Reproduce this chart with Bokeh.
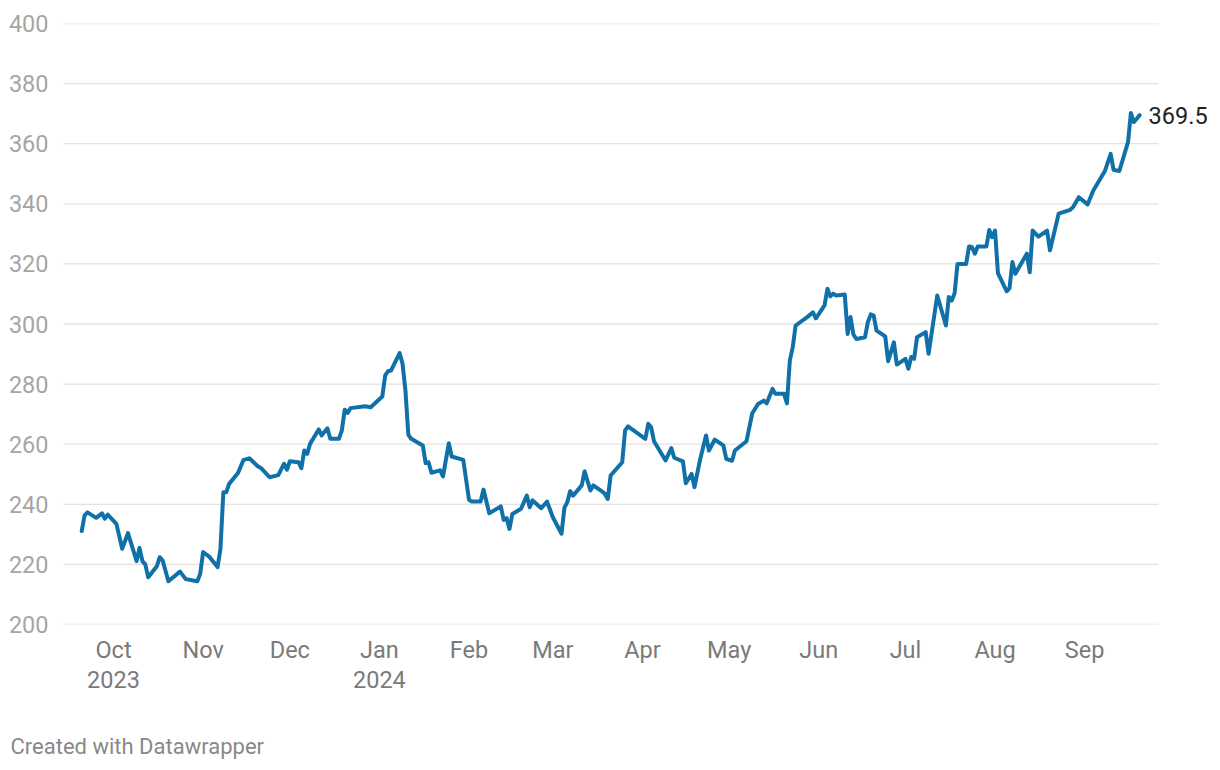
from datetime import datetime, timedelta
import pandas as pd
from bokeh.plotting import figure
from bokeh.layouts import column
from bokeh.models import (Range1d, FixedTicker, CustomJSTickFormatter, Label,
                          Title, ColumnDataSource)
from bokeh.embed import file_html
from bokeh.resources import INLINE

# ---------------- data ----------------
dates = [
    "2023-09-20", "2023-09-21", "2023-09-22", "2023-09-25", "2023-09-27", "2023-09-28", "2023-09-29",
    "2023-10-02", "2023-10-04", "2023-10-06", "2023-10-09", "2023-10-10", "2023-10-11", "2023-10-12",
    "2023-10-13", "2023-10-16", "2023-10-17", "2023-10-18", "2023-10-20", "2023-10-24", "2023-10-26",
    "2023-10-30", "2023-10-31", "2023-11-01", "2023-11-03", "2023-11-06", "2023-11-07", "2023-11-08",
    "2023-11-09", "2023-11-10", "2023-11-13", "2023-11-15", "2023-11-17", "2023-11-20", "2023-11-21",
    "2023-11-24", "2023-11-27", "2023-11-29", "2023-11-30", "2023-12-01", "2023-12-04", "2023-12-05",
    "2023-12-06", "2023-12-07", "2023-12-08", "2023-12-11", "2023-12-12", "2023-12-14", "2023-12-15",
    "2023-12-18", "2023-12-19", "2023-12-20", "2023-12-21", "2023-12-22", "2023-12-27", "2023-12-29",
    "2024-01-02", "2024-01-03", "2024-01-04", "2024-01-05", "2024-01-08", "2024-01-09", "2024-01-10",
    "2024-01-11", "2024-01-12", "2024-01-16", "2024-01-17", "2024-01-18", "2024-01-19", "2024-01-22",
    "2024-01-23", "2024-01-25", "2024-01-26", "2024-01-30", "2024-02-01", "2024-02-02", "2024-02-05",
    "2024-02-06", "2024-02-08", "2024-02-12", "2024-02-13", "2024-02-14", "2024-02-15", "2024-02-16",
    "2024-02-19", "2024-02-21", "2024-02-22", "2024-02-23", "2024-02-26", "2024-02-28", "2024-03-01",
    "2024-03-04", "2024-03-05", "2024-03-06", "2024-03-07", "2024-03-08", "2024-03-11", "2024-03-12",
    "2024-03-14", "2024-03-15", "2024-03-18", "2024-03-19", "2024-03-20", "2024-03-21", "2024-03-25",
    "2024-03-26", "2024-03-27", "2024-04-02", "2024-04-03", "2024-04-04", "2024-04-05", "2024-04-09",
    "2024-04-11", "2024-04-12", "2024-04-15", "2024-04-16", "2024-04-18", "2024-04-19", "2024-04-21",
    "2024-04-23", "2024-04-24", "2024-04-26", "2024-04-29", "2024-04-30", "2024-05-02", "2024-05-03",
    "2024-05-07", "2024-05-09", "2024-05-11", "2024-05-13", "2024-05-14", "2024-05-16", "2024-05-17",
    "2024-05-20", "2024-05-21", "2024-05-22", "2024-05-23", "2024-05-24", "2024-05-28", "2024-05-30",
    "2024-05-31", "2024-06-03", "2024-06-04", "2024-06-05", "2024-06-06", "2024-06-07", "2024-06-10",
    "2024-06-11", "2024-06-12", "2024-06-13", "2024-06-14", "2024-06-17", "2024-06-18", "2024-06-19",
    "2024-06-20", "2024-06-21", "2024-06-24", "2024-06-25", "2024-06-27", "2024-06-28", "2024-07-01",
    "2024-07-02", "2024-07-03", "2024-07-04", "2024-07-05", "2024-07-08", "2024-07-09", "2024-07-12",
    "2024-07-15", "2024-07-16", "2024-07-17", "2024-07-18", "2024-07-19", "2024-07-22", "2024-07-23",
    "2024-07-24", "2024-07-25", "2024-07-26", "2024-07-29", "2024-07-30", "2024-07-31", "2024-08-01",
    "2024-08-02", "2024-08-05", "2024-08-06", "2024-08-07", "2024-08-08", "2024-08-12", "2024-08-13",
    "2024-08-14", "2024-08-16", "2024-08-19", "2024-08-20", "2024-08-23", "2024-08-27", "2024-08-28",
    "2024-08-30", "2024-09-02", "2024-09-04", "2024-09-08", "2024-09-10", "2024-09-11", "2024-09-13",
    "2024-09-16", "2024-09-17", "2024-09-18", "2024-09-19", "2024-09-20",
]
prices = [
    231.1, 236.3, 237.3, 235.5, 237.0, 235.2, 236.6,
    233.5, 225.2, 230.4, 221.1, 225.5, 221.1, 220.0,
    215.7, 219.4, 222.4, 221.3, 214.4, 217.6, 215.1,
    214.4, 216.9, 224.1, 222.7, 219.1, 225.2, 244.0,
    244.0, 246.8, 250.3, 254.8, 255.3, 252.6, 252.1,
    249.0, 249.7, 253.5, 251.5, 254.3, 254.0, 252.0,
    257.9, 256.8, 260.1, 264.9, 262.9, 265.3, 261.8,
    261.8, 264.6, 271.5, 270.4, 272.0, 272.6, 272.3,
    275.9, 282.9, 284.3, 284.5, 290.3, 286.8, 277.9,
    263.2, 261.8, 259.6, 253.7, 254.0, 250.5, 251.3,
    249.3, 260.3, 255.9, 254.8, 241.5, 240.9, 240.9,
    244.9, 237.0, 239.3, 234.8, 235.4, 231.8, 236.8,
    238.5, 242.9, 239.0, 241.3, 238.7, 240.9, 235.7,
    230.2, 238.8, 240.7, 244.4, 242.9, 246.3, 251.0,
    244.6, 246.3, 244.3, 243.5, 241.8, 249.6, 254.0,
    264.6, 265.9, 261.8, 266.8, 265.7, 261.0, 254.6,
    258.7, 255.5, 254.3, 247.0, 250.1, 245.7, 255.1,
    262.9, 257.9, 261.5, 259.6, 255.1, 254.5, 257.9,
    261.0, 270.3, 273.4, 274.5, 273.6, 278.4, 276.8,
    276.8, 273.6, 287.9, 292.3, 299.5, 302.3, 303.9,
    301.9, 306.2, 311.7, 309.2, 310.1, 309.5, 309.8,
    296.7, 302.3, 296.5, 295.0, 295.6, 300.6, 303.2,
    302.8, 297.8, 295.9, 287.6, 293.9, 286.5, 288.4,
    285.1, 289.0, 288.4, 295.6, 297.3, 290.1, 309.5,
    299.5, 309.0, 307.8, 310.2, 320.0, 320.0, 325.8,
    325.6, 323.4, 325.8, 325.8, 331.3, 328.9, 331.1,
    316.9, 310.9, 311.9, 320.6, 316.7, 323.4, 317.2,
    331.1, 329.1, 331.1, 324.5, 336.7, 338.0, 338.9,
    342.2, 339.8, 344.4, 350.9, 356.6, 351.3, 350.9,
    360.5, 370.2, 367.2, 368.3, 369.5,
]
y_ticks = [200, 220, 240, 260, 280, 300, 320, 340, 360, 380, 400]
month_ticks = pd.date_range("2023-10-01", "2024-09-01", freq="MS")
last_label = "369.5"
footer_text = "Created with Datawrapper"

# ---------------- main figure ----------------
x = pd.to_datetime(dates)
origin = datetime(2023, 10, 1)
x_start = origin - timedelta(days=17.3)      # left edge of the plot area
x_grid_end = origin + timedelta(days=361.6)  # where the grid lines stop
x_end = origin + timedelta(days=383.0)       # right edge of the canvas (room for end label)

FONT = "Roboto"

p = figure(width=1220, height=710, x_axis_type="datetime",
           x_range=Range1d(x_start, x_end), y_range=Range1d(200, 400),
           output_backend="svg", toolbar_location=None,
           min_border_left=63, min_border_right=0,
           min_border_top=23, min_border_bottom=86)
p.outline_line_color = None
p.background_fill_color = "white"
p.border_fill_color = "white"

# y axis
p.yaxis.ticker = FixedTicker(ticks=y_ticks)
p.yaxis.axis_line_color = None
p.yaxis.major_tick_line_color = None
p.yaxis.minor_tick_line_color = None
p.yaxis.major_label_standoff = 9
p.yaxis.major_label_text_font = FONT
p.yaxis.major_label_text_font_size = "23.5px"
p.yaxis.major_label_text_color = "#a6a6a6"

# x axis
tick_ms = [int(t.value // 10**6) for t in month_ticks]
p.xaxis.ticker = FixedTicker(ticks=tick_ms)
p.xaxis.formatter = CustomJSTickFormatter(code="""
    const d = new Date(tick);
    const names = ["Jan","Feb","Mar","Apr","May","Jun","Jul","Aug","Sep","Oct","Nov","Dec"];
    const m = d.getUTCMonth();
    if (index == 0 || m == 0) { return names[m] + "\\n" + d.getUTCFullYear(); }
    return names[m];
""")
p.xaxis.axis_line_color = None
p.xaxis.major_tick_line_color = None
p.xaxis.minor_tick_line_color = None
p.xaxis.major_label_standoff = 5
p.xaxis.major_label_text_font = FONT
p.xaxis.major_label_text_font_size = "23.5px"
p.xaxis.major_label_text_line_height = 1.1
p.xaxis.major_label_text_color = "#7a7a7a"

# horizontal grid lines (stop short of the right edge, like the original)
p.xgrid.grid_line_color = None
p.ygrid.grid_line_color = None
p.segment(x0=[x_start] * len(y_ticks), y0=y_ticks,
          x1=[x_grid_end] * len(y_ticks), y1=y_ticks,
          line_color="#e2e2e2", line_width=1.3, level="underlay")

# price line
src = ColumnDataSource(dict(x=x, y=prices))
p.line("x", "y", source=src, line_color="#1070a8", line_width=4,
       line_join="round", line_cap="round")

# end label
p.add_layout(Label(x=x[-1], y=prices[-1], x_offset=9, y_offset=0,
                   text=last_label, text_font=FONT, text_font_size="23.5px",
                   text_color="#222222", text_baseline="middle", text_align="left"))

# ---------------- footer ----------------
f = figure(width=1220, height=60, output_backend="svg", toolbar_location=None,
           x_range=Range1d(0, 1), y_range=Range1d(0, 1),
           x_axis_location=None, y_axis_location=None, min_border=0)
f.outline_line_color = None
f.xgrid.grid_line_color = None
f.ygrid.grid_line_color = None
f.add_layout(Title(text=footer_text, align="left", offset=-53, standoff=24,
                   vertical_align="bottom", text_font=FONT, text_font_size="22px",
                   text_font_style="normal", text_color="#888888"), "below")

layout = column(p, f, spacing=0)
open("out.html", "w").write(file_html(layout, INLINE))
